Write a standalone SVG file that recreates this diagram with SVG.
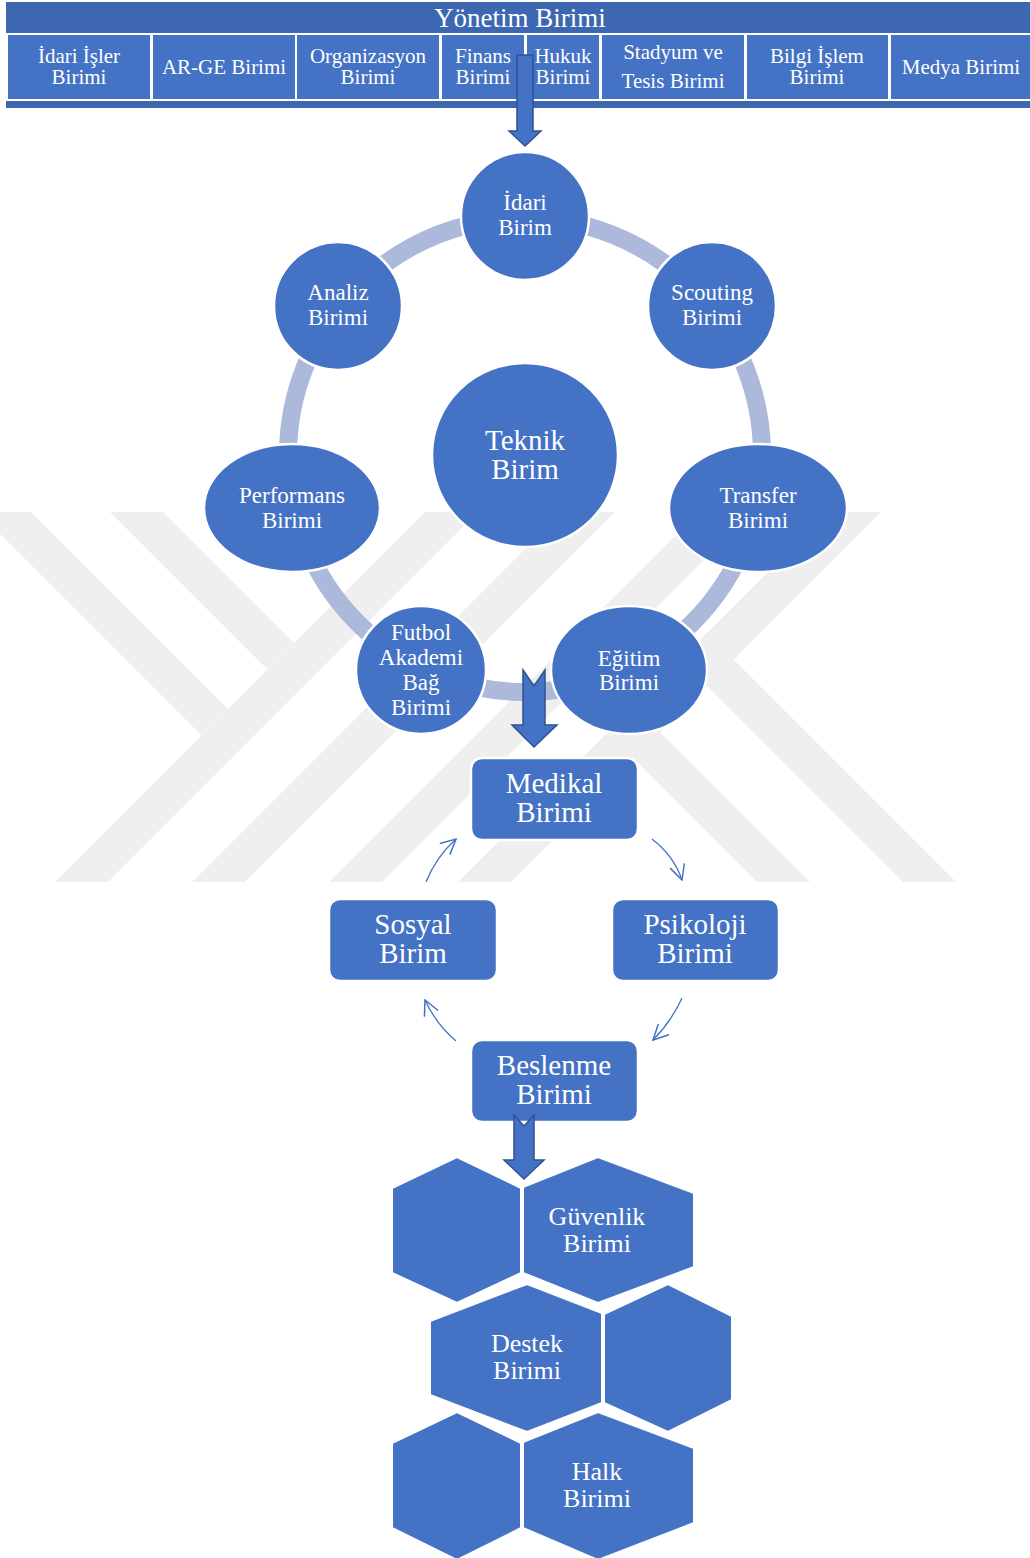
<svg xmlns="http://www.w3.org/2000/svg" width="1030" height="1558" viewBox="0 0 1030 1558">
<style>
text{font-family:"Liberation Serif","Times New Roman",serif;fill:#fff;text-anchor:middle}
.h{font-size:21px}
.c{font-size:23px}
.b{font-size:29px}
.x{font-size:26px}
.node{fill:#4472c4;stroke:#fff;stroke-width:2.5}
.hex{fill:#4472c4;stroke:#fff;stroke-width:2}
.cell{fill:#4472c4}
.wm{fill:#efefef}
.blk{fill:#4472c4;stroke:#2f528f;stroke-width:1.5;stroke-linejoin:miter}
.thin{fill:none;stroke:#4472c4;stroke-width:1.3}
</style>
<defs>
<marker id="open" viewBox="0 0 12 12" refX="11" refY="6" markerWidth="18" markerHeight="18" markerUnits="userSpaceOnUse" orient="auto">
<path d="M1,1 L11,6 L1,11" fill="none" stroke="#4472c4" stroke-width="1"/>
</marker>
</defs>
<rect width="1030" height="1558" fill="#fff"/>
<g id="watermark">
<polygon class="wm" points="425,512 478,512 108,882 55,882"/>
<polygon class="wm" points="562,512 615,512 245,882 192,882"/>
<polygon class="wm" points="699,512 752,512 382,882 329,882"/>
<polygon class="wm" points="828,512 881,512 511,882 458,882"/>
<polygon class="wm" points="-22,512 31,512 228,709 201.5,735.5"/>
<polygon class="wm" points="110,512 163,512 294,643 267.5,669.5"/>
<polygon class="wm" points="680.5,659.5 707,633 956,882 903,882"/>
<polygon class="wm" points="607.5,732.5 634,706 810,882 757,882"/>
</g>
<g id="header">
<rect x="6" y="2" width="1024" height="106" fill="#3d67b0"/>
<rect x="6" y="33" width="1024" height="68" fill="#fff"/>
<rect class="cell" x="8" y="35" width="142" height="64"/>
<rect class="cell" x="153" y="35" width="142" height="64"/>
<rect class="cell" x="297" y="35" width="142" height="64"/>
<rect class="cell" x="442" y="35" width="82" height="64"/>
<rect class="cell" x="527" y="35" width="72" height="64"/>
<rect class="cell" x="602" y="35" width="142" height="64"/>
<rect class="cell" x="747" y="35" width="141" height="64"/>
<rect class="cell" x="891" y="35" width="139" height="64"/>
<text x="520" y="27" style="font-size:27px">Yönetim Birimi</text>
<text class="h" x="79" y="63">İdari İşler</text><text class="h" x="79" y="84">Birimi</text>
<text class="h" x="224" y="74">AR-GE Birimi</text>
<text class="h" x="368" y="63">Organizasyon</text><text class="h" x="368" y="84">Birimi</text>
<text class="h" x="483" y="63">Finans</text><text class="h" x="483" y="84">Birimi</text>
<text class="h" x="563" y="63">Hukuk</text><text class="h" x="563" y="84">Birimi</text>
<text class="h" x="673" y="59">Stadyum ve</text><text class="h" x="673" y="88">Tesis Birimi</text>
<text class="h" x="817" y="63">Bilgi İşlem</text><text class="h" x="817" y="84">Birimi</text>
<text class="h" x="961" y="74">Medya Birimi</text>
</g>
<g id="connectors">
<circle cx="525" cy="455" r="237" fill="none" stroke="#adb9db" stroke-width="18"/>
<path class="thin" d="M652,839 Q674,856 682,880" marker-end="url(#open)"/>
<path class="thin" d="M682,998 Q671,1022 653,1040" marker-end="url(#open)"/>
<path class="thin" d="M456,1041 Q436,1024 425,1000" marker-end="url(#open)"/>
<path class="thin" d="M426,882 Q436,857 456,839" marker-end="url(#open)"/>
</g>
<g id="teknik"><ellipse class="node" cx="525" cy="455" rx="93" ry="92"/><text class="b" x="525" y="450">Teknik</text><text class="b" x="525" y="479">Birim</text></g>
<g id="idari"><circle class="node" cx="525" cy="216" r="64"/><text class="c" x="525" y="210">İdari</text><text class="c" x="525" y="235">Birim</text></g>
<g id="scouting"><circle class="node" cx="712" cy="306" r="64"/><text class="c" x="712" y="300">Scouting</text><text class="c" x="712" y="325">Birimi</text></g>
<g id="analiz"><circle class="node" cx="338" cy="306" r="64"/><text class="c" x="338" y="300">Analiz</text><text class="c" x="338" y="325">Birimi</text></g>
<g id="transfer"><ellipse class="node" cx="758" cy="508" rx="89" ry="64"/><text class="c" x="758" y="503">Transfer</text><text class="c" x="758" y="528">Birimi</text></g>
<g id="performans"><ellipse class="node" cx="292" cy="508" rx="88" ry="64"/><text class="c" x="292" y="503">Performans</text><text class="c" x="292" y="528">Birimi</text></g>
<g id="egitim"><ellipse class="node" cx="629" cy="670" rx="78" ry="64"/><text class="c" x="629" y="666">Eğitim</text><text class="c" x="629" y="690">Birimi</text></g>
<g id="futbol"><ellipse class="node" cx="421" cy="670" rx="65" ry="64"/><text class="c" x="421" y="640">Futbol</text><text class="c" x="421" y="665">Akademi</text><text class="c" x="421" y="690">Bağ</text><text class="c" x="421" y="715">Birimi</text></g>
<g id="medikal"><rect class="node" x="471" y="758" width="167" height="82" rx="11"/><text class="b" x="554" y="793">Medikal</text><text class="b" x="554" y="822">Birimi</text></g>
<g id="sosyal"><rect class="node" x="329" y="899" width="168" height="82" rx="11"/><text class="b" x="413" y="934">Sosyal</text><text class="b" x="413" y="963">Birim</text></g>
<g id="psikoloji"><rect class="node" x="612" y="899" width="167" height="82" rx="11"/><text class="b" x="695" y="934">Psikoloji</text><text class="b" x="695" y="963">Birimi</text></g>
<g id="beslenme"><rect class="node" x="471" y="1040" width="167" height="82" rx="11"/><text class="b" x="554" y="1075">Beslenme</text><text class="b" x="554" y="1104">Birimi</text></g>
<g id="hex1"><polygon class="hex" points="392,1188 457,1157 521,1188 521,1273 457,1303 392,1273"/></g>
<g id="guvenlik"><polygon class="hex" points="523,1187 598,1157 694,1193 694,1267 598,1303 523,1273"/><text class="x" x="597" y="1225">Güvenlik</text><text class="x" x="597" y="1252">Birimi</text></g>
<g id="destek"><polygon class="hex" points="430,1321 527,1284 602,1313 602,1403 527,1432 430,1395"/><text class="x" x="527" y="1352">Destek</text><text class="x" x="527" y="1379">Birimi</text></g>
<g id="hex4"><polygon class="hex" points="604,1314 668,1284 732,1316 732,1400 668,1432 604,1403"/></g>
<g id="hex5"><polygon class="hex" points="392,1443 457,1412 521,1443 521,1528 457,1560 392,1528"/></g>
<g id="halk"><polygon class="hex" points="523,1442 598,1412 694,1448 694,1523 598,1560 523,1528"/><text class="x" x="597" y="1480">Halk</text><text class="x" x="597" y="1507">Birimi</text></g>
<g id="arrows">
<polygon class="blk" points="517,55 533,55 533,131 541,131 525,146 509,131 517,131"/>
<polygon class="blk" points="523,670 534,686 545,670 545,725 557,725 534,747 512,725 523,725"/>
<polygon class="blk" points="514,1115 524,1126 534,1115 534,1160 544,1160 524,1179 504,1160 514,1160"/>
</g>
</svg>
